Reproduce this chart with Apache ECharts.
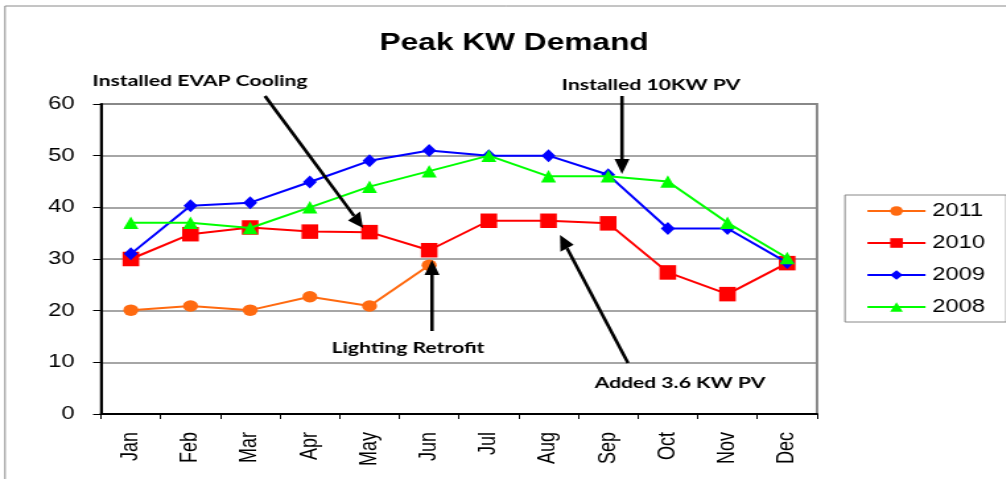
<!DOCTYPE html>
<html>
<head>
<meta charset="utf-8">
<script src="https://cdn.jsdelivr.net/npm/echarts@6/dist/echarts.min.js"></script>
<style>
html,body{margin:0;padding:0;background:#fff;overflow:hidden;width:1006px;height:479px;}
#wrap{width:1006px;height:479px;overflow:hidden;position:relative;}
#chart{width:762px;height:479px;transform:scaleX(1.32);transform-origin:0 0;position:absolute;left:0;top:0;}
</style>
</head>
<body>
<div id="wrap"><div id="chart"></div></div>
<script>
// ---- data ----
var months = ['Jan','Feb','Mar','Apr','May','Jun','Jul','Aug','Sep','Oct','Nov','Dec'];
var y2011 = [20.1, 20.9, 20.1, 22.7, 20.9, 28.8, null, null, null, null, null, null];
var y2010 = [30.0, 34.8, 36.1, 35.3, 35.2, 31.7, 37.4, 37.4, 36.9, 27.4, 23.2, 29.2];
var y2009 = [31.0, 40.3, 40.9, 44.9, 49.0, 51.0, 50.0, 50.0, 46.3, 35.9, 35.9, 29.3];
var y2008 = [37.0, 37.0, 36.0, 40.0, 44.0, 47.0, 50.0, 46.0, 46.0, 45.0, 37.0, 30.2];
var seriesNames = ['2011', '2010', '2009', '2008'];
var yTicks = [0, 10, 20, 30, 40, 50, 60];
var notes = ['Installed EVAP Cooling', 'Installed 10KW PV', 'Lighting Retrofit', 'Added 3.6 KW PV'];

// ---- layout ----
var S = 1.32; // horizontal stretch of the whole picture
function X(v){ return v / S; }
var noteFont = 'bold 16px Lato, "Open Sans", sans-serif';

function arrow(x1, y1, x2, y2){
  // coordinates in final (stretched) pixels
  var dx = x2 - x1, dy = y2 - y1, L = Math.sqrt(dx*dx + dy*dy);
  var ux = dx / L, uy = dy / L;
  var hl = 15, hw = 7.5;
  var bx = x2 - ux*hl, by = y2 - uy*hl;
  var p1 = [X(bx - uy*hw), by + ux*hw];
  var p2 = [X(bx + uy*hw), by - ux*hw];
  return [
    {type:'line', shape:{x1:X(x1), y1:y1, x2:X(bx), y2:by}, style:{stroke:'#000', lineWidth:2.6}, z:50},
    {type:'polygon', shape:{points:[[X(x2), y2], p1, p2]}, style:{fill:'#000'}, z:50}
  ];
}
function note(text, cx, cy){
  return {type:'text', x:X(cx), y:cy, z:50,
    style:{text:text, font:noteFont, fill:'#000', textAlign:'center', textVerticalAlign:'middle'}};
}

var graphics = [
  {type:'rect', shape:{x:X(5), y:6, width:2000, height:2000}, style:{fill:'none', stroke:'#8a8a8a', lineWidth:1}, z:-1, silent:true},
  note(notes[0], 200, 81),
  note(notes[1], 651, 85),
  note(notes[2], 408, 348),
  note(notes[3], 680, 383)
].concat(arrow(265, 96, 363, 228))
 .concat(arrow(622, 96, 622, 174))
 .concat(arrow(432, 331, 432, 260))
 .concat(arrow(628, 363, 560, 235));

var colors = ['#FF6A10', '#FF0000', '#0000FF', '#00FF00'];
var symbols = ['circle', 'rect', 'diamond', 'triangle'];
var sizes = [[11.4, 11.5], [12.6, 14.5], [10.6, 13], [11.4, 12.5]];
var datas = [y2011, y2010, y2009, y2008];

var series = seriesNames.map(function(n, i){
  return {
    name: n, type: 'line', data: datas[i],
    symbol: symbols[i], symbolSize: sizes[i], showAllSymbol: true,
    lineStyle: {color: colors[i], width: 2},
    itemStyle: {color: colors[i]},
    connectNulls: false, animation: false, z: 10 + i
  };
});

var chart = echarts.init(document.getElementById('chart'), null, {renderer: 'canvas'});
chart.setOption({
  animation: false,
  backgroundColor: '#fff',
  title: {
    text: 'Peak KW Demand', left: X(507.5), top: 26, textAlign: 'center',
    textStyle: {fontFamily: '"Liberation Sans", Arial, sans-serif', fontWeight: 'bold', fontSize: 24, color: '#000'}
  },
  legend: {
    orient: 'vertical', left: X(845), top: 195,
    padding: [7, 16, 6, 16], itemGap: 14, itemWidth: 44, itemHeight: 12,
    borderColor: '#888', borderWidth: 1,
    data: seriesNames,
    textStyle: {fontFamily: '"Liberation Sans", Arial, sans-serif', fontSize: 18, color: '#000'}
  },
  grid: {
    left: X(101), right: 762 - X(817), top: 104, bottom: 65,
    show: true, borderColor: '#888', borderWidth: 2, backgroundColor: 'transparent', containLabel: false
  },
  xAxis: {
    type: 'category', data: months, boundaryGap: true,
    axisLine: {lineStyle: {color: '#000', width: 2}},
    axisTick: {show: true, length: 5, lineStyle: {color: '#000', width: 1}, alignWithLabel: false},
    axisLabel: {rotate: 90, margin: 18, fontSize: 18, color: '#000', fontFamily: '"Liberation Sans", Arial, sans-serif', interval: 0}
  },
  yAxis: {
    type: 'value', min: yTicks[0], max: yTicks[yTicks.length - 1], interval: 10,
    axisLine: {show: true, lineStyle: {color: '#000', width: 2}},
    axisTick: {show: true, length: 6, lineStyle: {color: '#000', width: 1}},
    splitLine: {show: true, lineStyle: {color: '#888', width: 1.5}},
    axisLabel: {margin: 20, fontSize: 18, color: '#000', fontFamily: '"Liberation Sans", Arial, sans-serif'}
  },
  series: series,
  graphic: graphics
});
</script>
</body>
</html>
